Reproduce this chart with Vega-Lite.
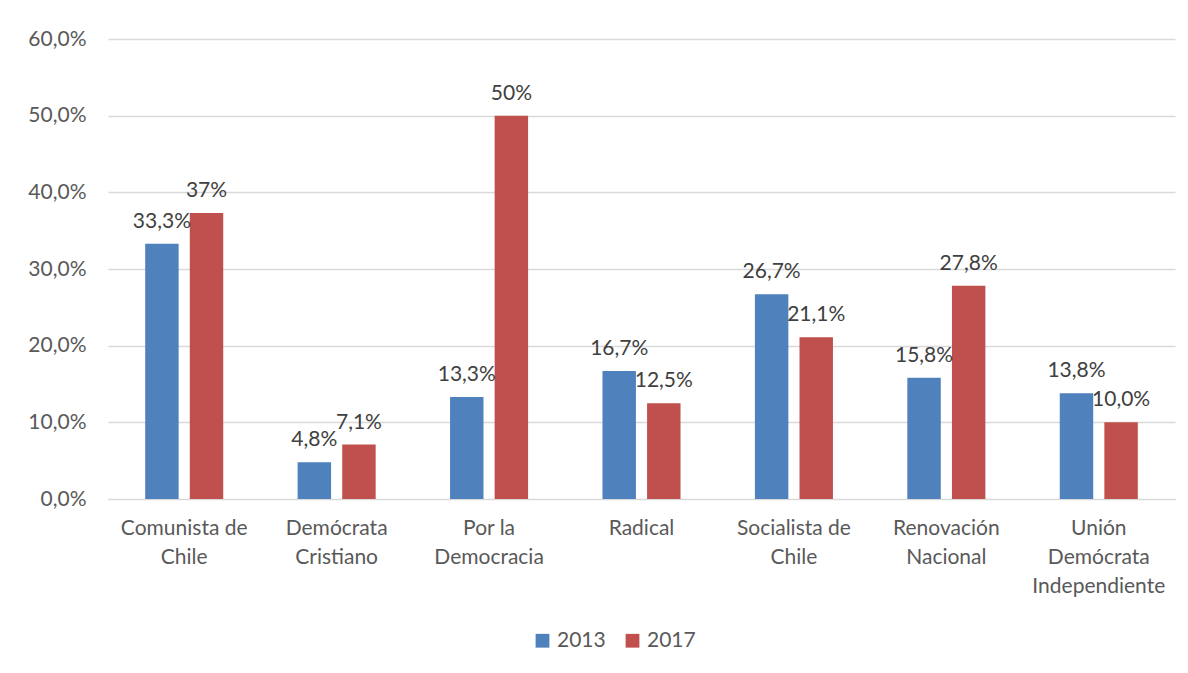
{
  "$schema": "https://vega.github.io/schema/vega-lite/v6.json",
  "width": 1067,
  "height": 460,
  "autosize": {"type": "none"},
  "padding": {"left": 108, "top": 39, "right": 13, "bottom": 174},
  "background": "white",
  "config": {
    "view": {"stroke": null},
    "font": "Lato",
    "text": {"font": "Lato"}
  },
  "data": {
    "values": [
      {"partido": "Comunista de Chile", "año": "2013", "valor": 33.3, "etiqueta": "33,3%"},
      {"partido": "Comunista de Chile", "año": "2017", "valor": 37.3, "etiqueta": "37%"},
      {"partido": "Demócrata Cristiano", "año": "2013", "valor": 4.8, "etiqueta": "4,8%"},
      {"partido": "Demócrata Cristiano", "año": "2017", "valor": 7.1, "etiqueta": "7,1%"},
      {"partido": "Por la Democracia", "año": "2013", "valor": 13.3, "etiqueta": "13,3%"},
      {"partido": "Por la Democracia", "año": "2017", "valor": 50.0, "etiqueta": "50%"},
      {"partido": "Radical", "año": "2013", "valor": 16.7, "etiqueta": "16,7%"},
      {"partido": "Radical", "año": "2017", "valor": 12.5, "etiqueta": "12,5%"},
      {"partido": "Socialista de Chile", "año": "2013", "valor": 26.7, "etiqueta": "26,7%"},
      {"partido": "Socialista de Chile", "año": "2017", "valor": 21.1, "etiqueta": "21,1%"},
      {"partido": "Renovación Nacional", "año": "2013", "valor": 15.8, "etiqueta": "15,8%"},
      {"partido": "Renovación Nacional", "año": "2017", "valor": 27.8, "etiqueta": "27,8%"},
      {"partido": "Unión Demócrata Independiente", "año": "2013", "valor": 13.8, "etiqueta": "13,8%"},
      {"partido": "Unión Demócrata Independiente", "año": "2017", "valor": 10.0, "etiqueta": "10,0%"}
    ]
  },
  "encoding": {
    "x": {
      "field": "partido",
      "type": "nominal",
      "sort": null,
      "scale": {"paddingInner": 0.488, "paddingOuter": 0.244},
      "axis": {
        "title": null,
        "labelAngle": 0,
        "labelFontSize": 21,
        "labelColor": "#595959",
        "labelFont": "Lato",
        "labelPadding": 18,
        "labelLineHeight": 29,
        "labelBaseline": "top",
        "ticks": false,
        "domainColor": "#d9d9d9",
        "domainWidth": 1,
        "labelLimit": 300,
        "labelExpr": "datum.label == 'Comunista de Chile' ? ['Comunista de', 'Chile'] : datum.label == 'Demócrata Cristiano' ? ['Demócrata', 'Cristiano'] : datum.label == 'Por la Democracia' ? ['Por la', 'Democracia'] : datum.label == 'Socialista de Chile' ? ['Socialista de', 'Chile'] : datum.label == 'Renovación Nacional' ? ['Renovación', 'Nacional'] : datum.label == 'Unión Demócrata Independiente' ? ['Unión', 'Demócrata', 'Independiente'] : datum.label"
      }
    },
    "xOffset": {
      "field": "año",
      "type": "nominal",
      "scale": {"paddingInner": 0.25, "paddingOuter": 0}
    },
    "y": {
      "field": "valor",
      "type": "quantitative",
      "scale": {"domain": [0, 60], "nice": false},
      "axis": {
        "title": null,
        "values": [0, 10, 20, 30, 40, 50, 60],
        "labelExpr": "replace(format(datum.value, '.1f'), '.', ',') + '%'",
        "labelFontSize": 21,
        "labelColor": "#595959",
        "labelFont": "Lato",
        "labelPadding": 22,
        "ticks": false,
        "domain": false,
        "gridColor": "#d9d9d9",
        "gridWidth": 1.3
      }
    }
  },
  "layer": [
    {
      "mark": {"type": "bar"},
      "encoding": {
        "color": {
          "field": "año",
          "type": "nominal",
          "scale": {"domain": ["2013", "2017"], "range": ["#4F81BD", "#C0504D"]},
          "legend": {
            "title": null,
            "orient": "none",
            "direction": "horizontal",
            "legendX": 424,
            "legendY": 591,
            "symbolType": "square",
            "symbolSize": 190,
            "symbolStrokeWidth": 0,
            "labelFontSize": 21,
            "labelColor": "#595959",
            "labelFont": "Lato",
            "columnPadding": 16,
            "labelOffset": 4
          }
        }
      }
    },
    {
      "mark": {"type": "text", "baseline": "alphabetic", "dy": -16, "fontSize": 21, "color": "#404040", "font": "Lato"},
      "encoding": {
        "text": {"field": "etiqueta"}
      }
    }
  ]
}
